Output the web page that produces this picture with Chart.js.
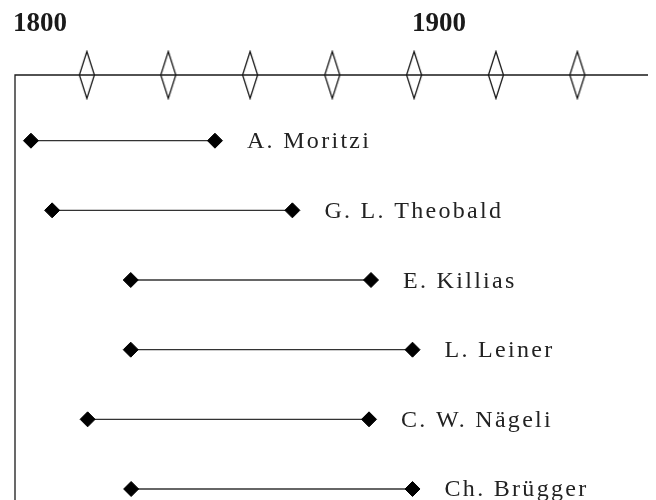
<!DOCTYPE html>
<html>
<head>
<meta charset="utf-8">
<script src="https://cdn.jsdelivr.net/npm/chart.js@4"></script>
<style>
  html, body { margin: 0; padding: 0; background: #fff; }
  #wrap { width: 656px; height: 500px; }
</style>
</head>
<body>
<div id="wrap"><canvas id="chart" width="656" height="500"></canvas></div>
<script>
// --- Data ---
const names = ["A. Moritzi", "G. L. Theobald", "E. Killias", "L. Leiner", "C. W. Nägeli", "Ch. Brügger"];
const born = [1804, 1809.3, 1829, 1829, 1818.2, 1829.1];
const died = [1850.1, 1869.5, 1889.2, 1899.6, 1888.7, 1899.6];
const axisMarks = [1818, 1838.4, 1858.9, 1879.5, 1900, 1920.5, 1940.9];
const yearLabels = [1800, 1900];

const X_MIN = 1800, X_MAX = 1958.6;
const Y_MIN = -0.943, Y_MAX = 5.158;
const INK = "#1a1a1a";

// tall hollow diamond used on the time axis
function makeAxisDiamond() {
  const c = document.createElement("canvas");
  c.width = 18; c.height = 50;
  const g = c.getContext("2d");
  g.strokeStyle = INK;
  g.lineWidth = 1.3;
  g.beginPath();
  g.moveTo(9, 1.5);
  g.lineTo(16.5, 25);
  g.lineTo(9, 48.5);
  g.lineTo(1.5, 25);
  g.closePath();
  g.stroke();
  return c;
}

// --- Plugin: frame lines, year labels, names ---
const decorations = {
  id: "decorations",
  beforeDatasetsDraw(chart) {
    const { ctx, chartArea: a } = chart;
    ctx.save();
    ctx.strokeStyle = INK;
    ctx.lineWidth = 1.3;
    ctx.beginPath();
    ctx.moveTo(a.left, a.bottom);
    ctx.lineTo(a.left, a.top);
    ctx.lineTo(a.right, a.top);
    ctx.stroke();
    ctx.restore();
  },
  afterDatasetsDraw(chart) {
    const { ctx, scales: { x, y } } = chart;
    ctx.save();
    ctx.fillStyle = INK;
    ctx.font = "bold 27px 'Liberation Serif', serif";
    ctx.textBaseline = "alphabetic";
    ctx.textAlign = "left";
    yearLabels.forEach(yr => ctx.fillText(String(yr), x.getPixelForValue(yr) - 2, 31));

    ctx.fillStyle = "#222";
    ctx.font = "24px 'Liberation Serif', serif";
    if ("letterSpacing" in ctx) ctx.letterSpacing = "2.3px";
    names.forEach((n, i) => {
      ctx.fillText(n, x.getPixelForValue(died[i]) + 32, y.getPixelForValue(i) + 7.5);
    });
    ctx.restore();
  }
};

const axisDiamond = makeAxisDiamond();

const lifeSets = names.map((n, i) => ({
  label: n,
  data: [{ x: born[i], y: i }, { x: died[i], y: i }],
  showLine: true,
  borderColor: "#333",
  borderWidth: 1.3,
  pointStyle: "rectRot",
  pointRadius: 7.5,
  pointBackgroundColor: "#000",
  pointBorderColor: "#000",
  pointBorderWidth: 1
}));

new Chart(document.getElementById("chart"), {
  type: "scatter",
  data: {
    datasets: [
      ...lifeSets,
      {
        label: "axis",
        data: axisMarks.map(v => ({ x: v, y: Y_MIN })),
        showLine: false,
        pointStyle: axisDiamond,
        pointRadius: 9,
        clip: false
      }
    ]
  },
  options: {
    responsive: false,
    animation: false,
    layout: { autoPadding: false, padding: { left: 15, right: 8, top: 75, bottom: 0 } },
    plugins: { legend: { display: false }, tooltip: { enabled: false } },
    scales: {
      x: { type: "linear", min: X_MIN, max: X_MAX, display: false },
      y: { type: "linear", min: Y_MIN, max: Y_MAX, reverse: true, display: false }
    }
  },
  plugins: [decorations]
});
</script>
</body>
</html>
